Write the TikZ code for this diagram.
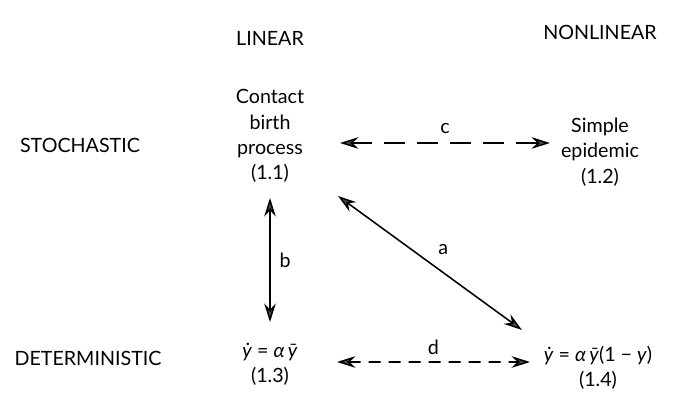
\documentclass[tikz,border=0pt]{standalone}
\usepackage{fontspec}
\setmainfont{Lato}
\usetikzlibrary{arrows.meta}

\begin{document}
\begin{tikzpicture}[
    every node/.style={font=\fontsize{14}{18}\selectfont},
    item/.style={align=center, inner sep=2pt},
    link/.style={line width=1.1pt, {Stealth[length=4.6mm, width=2.9mm, fill=gray!60!black]}-{Stealth[length=4.6mm, width=2.9mm, fill=gray!60!black]}},
    dashlink/.style={link, dash pattern=on 5.2mm off 3mm},
    shortdash/.style={link, dash pattern=on 3mm off 2mm}
]
    % Frame
    \useasboundingbox (0,0) rectangle (17.4,10.2);

    % Column and row headings
    \node (linear) at (6.75,9.25) {LINEAR};
    \node (nonlinear) at (15.0,9.4) {NONLINEAR};
    \node (stoch) at (2.0,6.575) {STOCHASTIC};
    \node (determ) at (2.2,1.25) {DETERMINISTIC};

    % The four models
    \node[item] (contact) at (6.75,6.8) {Contact\\birth\\process\\(1.1)};
    \node[item] (epidemic) at (15.0,6.4) {Simple\\epidemic\\(1.2)};
    \node[item] (detlin) at (6.75,1.1) {\textit{ẏ} = \textit{α}\,\textit{ȳ}\\(1.3)};
    \node[item] (detnonlin) at (14.95,1.0) {\textit{ẏ} = \textit{α}\,\textit{ȳ}(1 − \textit{y})\\(1.4)};

    % Links between them
    \draw[dashlink] ([shift={(1.75,-0.175)}]contact.center) -- node[above=3pt] {c} ([shift={(-1.25,0.225)}]epidemic.center);
    \draw[shortdash] ([shift={(1.675,0.05)}]detlin.center) -- node[above=1pt] {d} ([shift={(-1.7,0.15)}]detnonlin.center);
    \draw[link] ([yshift=-1.55cm]contact.center) -- node[right=3pt] {b} ([yshift=1.05cm]detlin.center);
    \draw[link] ([shift={(1.7,-1.5)}]contact.center) -- node[above right=2pt] {a} ([shift={(-1.9,0.95)}]detnonlin.center);

\end{tikzpicture}
\end{document}
